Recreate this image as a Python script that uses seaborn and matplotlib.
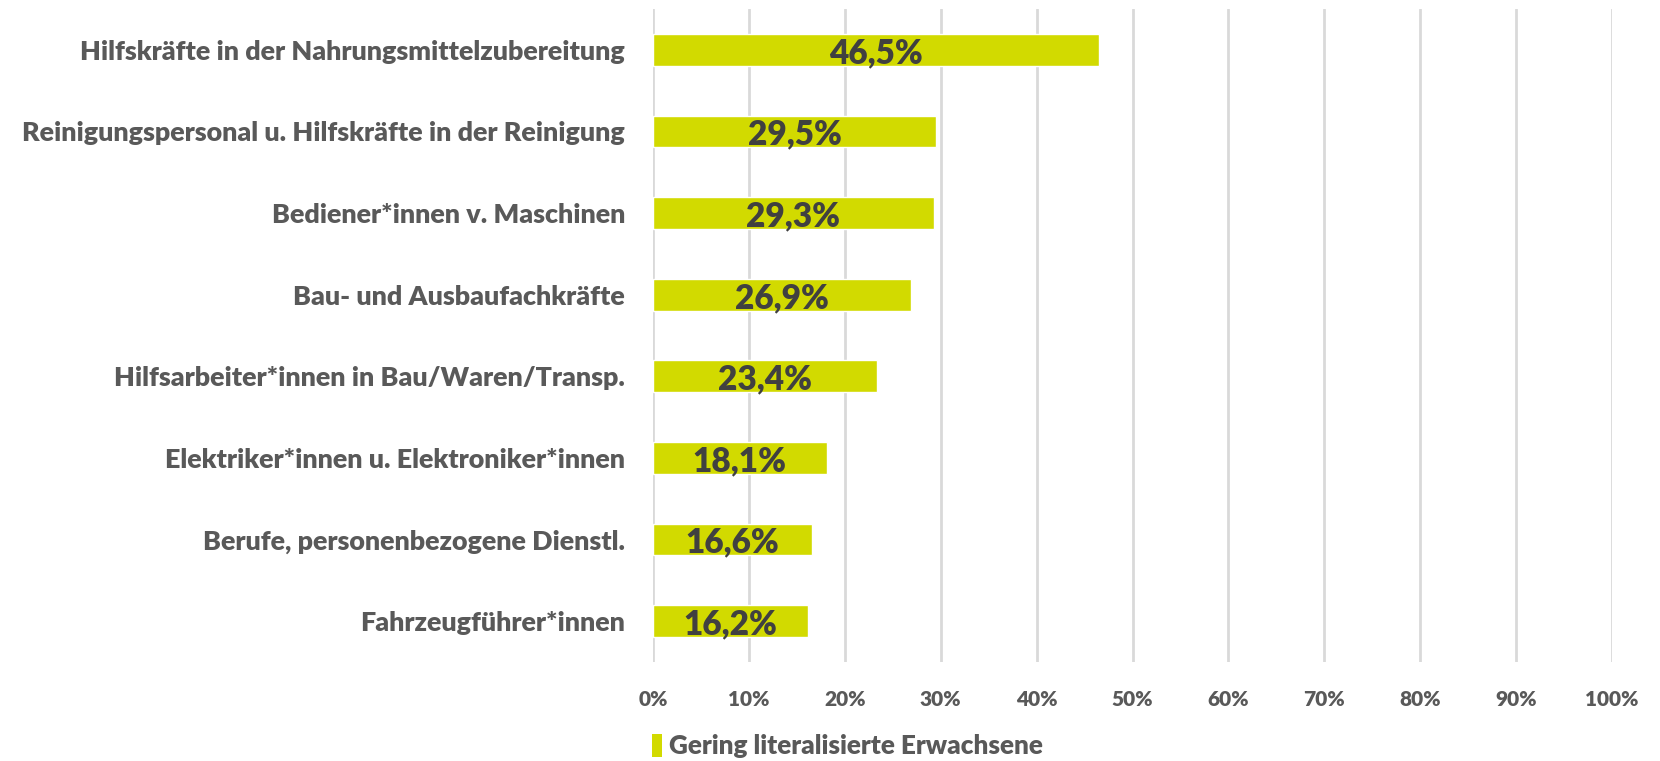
import matplotlib
matplotlib.use("Agg")
import matplotlib.pyplot as plt
import seaborn as sns
import pandas as pd
from matplotlib.patches import Patch
from matplotlib.ticker import FuncFormatter

categories = [
    "Hilfskräfte in der Nahrungsmittelzubereitung",
    "Reinigungspersonal u. Hilfskräfte in der Reinigung",
    "Bediener*innen v. Maschinen",
    "Bau- und Ausbaufachkräfte",
    "Hilfsarbeiter*innen in Bau/Waren/Transp.",
    "Elektriker*innen u. Elektroniker*innen",
    "Berufe, personenbezogene Dienstl.",
    "Fahrzeugführer*innen",
]
values = [46.5, 29.5, 29.3, 26.9, 23.4, 18.1, 16.6, 16.2]
value_labels = ["46,5%", "29,5%", "29,3%", "26,9%", "23,4%", "18,1%", "16,6%", "16,2%"]
xticks = [0, 10, 20, 30, 40, 50, 60, 70, 80, 90, 100]
series_name = "Gering literalisierte Erwachsene"

sns.set_theme(style="white")
plt.rcParams['font.family'] = ['Lato', 'DejaVu Sans']

BAR = "#D2DA00"
GRAY = "#595959"
DARK = "#404040"
W = "heavy"

df = pd.DataFrame({"cat": categories, "val": values})

fig = plt.figure(figsize=(16.6, 7.61), dpi=100)
ax = fig.add_axes([653/1660, 1-662/761, (1612-653)/1660, (662-9)/761])

sns.barplot(data=df, x="val", y="cat", orient="h", color=BAR, width=0.39,
            saturation=1, ax=ax, zorder=3)

ax.set_xlim(0, 100)
ax.set_ylim(7.5, -0.5)
ax.set_xticks(xticks)
ax.xaxis.set_major_formatter(FuncFormatter(lambda v, p: f"{int(v)}%"))
ax.grid(axis="x", color="#D9D9D9", linewidth=2, zorder=0)
ax.grid(axis="y", visible=False)
for s in ax.spines.values():
    s.set_visible(False)
ax.set_xlabel("")
ax.set_ylabel("")
ax.tick_params(axis="x", length=0, pad=20, labelsize=15, labelcolor=GRAY)
ax.tick_params(axis="y", length=0, pad=20, labelsize=19.4, labelcolor=GRAY)
for lab in ax.get_xticklabels() + ax.get_yticklabels():
    lab.set_fontweight(W)

for bar, lab in zip(ax.patches, value_labels):
    cx = bar.get_x() + bar.get_width() / 2
    cy = bar.get_y() + bar.get_height() / 2
    ax.text(cx, cy + 0.04, lab, ha="center", va="center", fontsize=24,
            fontweight=W, color=DARK, zorder=4)

handle = Patch(facecolor=BAR, edgecolor="none")
leg = fig.legend([handle], [series_name], loc="center left",
                 bbox_to_anchor=(628/1660, 1-746/761), frameon=False,
                 prop={"size": 18.8, "weight": W}, handlelength=0.42,
                 handleheight=1.0, handletextpad=0.25)
for t in leg.get_texts():
    t.set_color(GRAY)

fig.savefig("out.png", dpi=100)
